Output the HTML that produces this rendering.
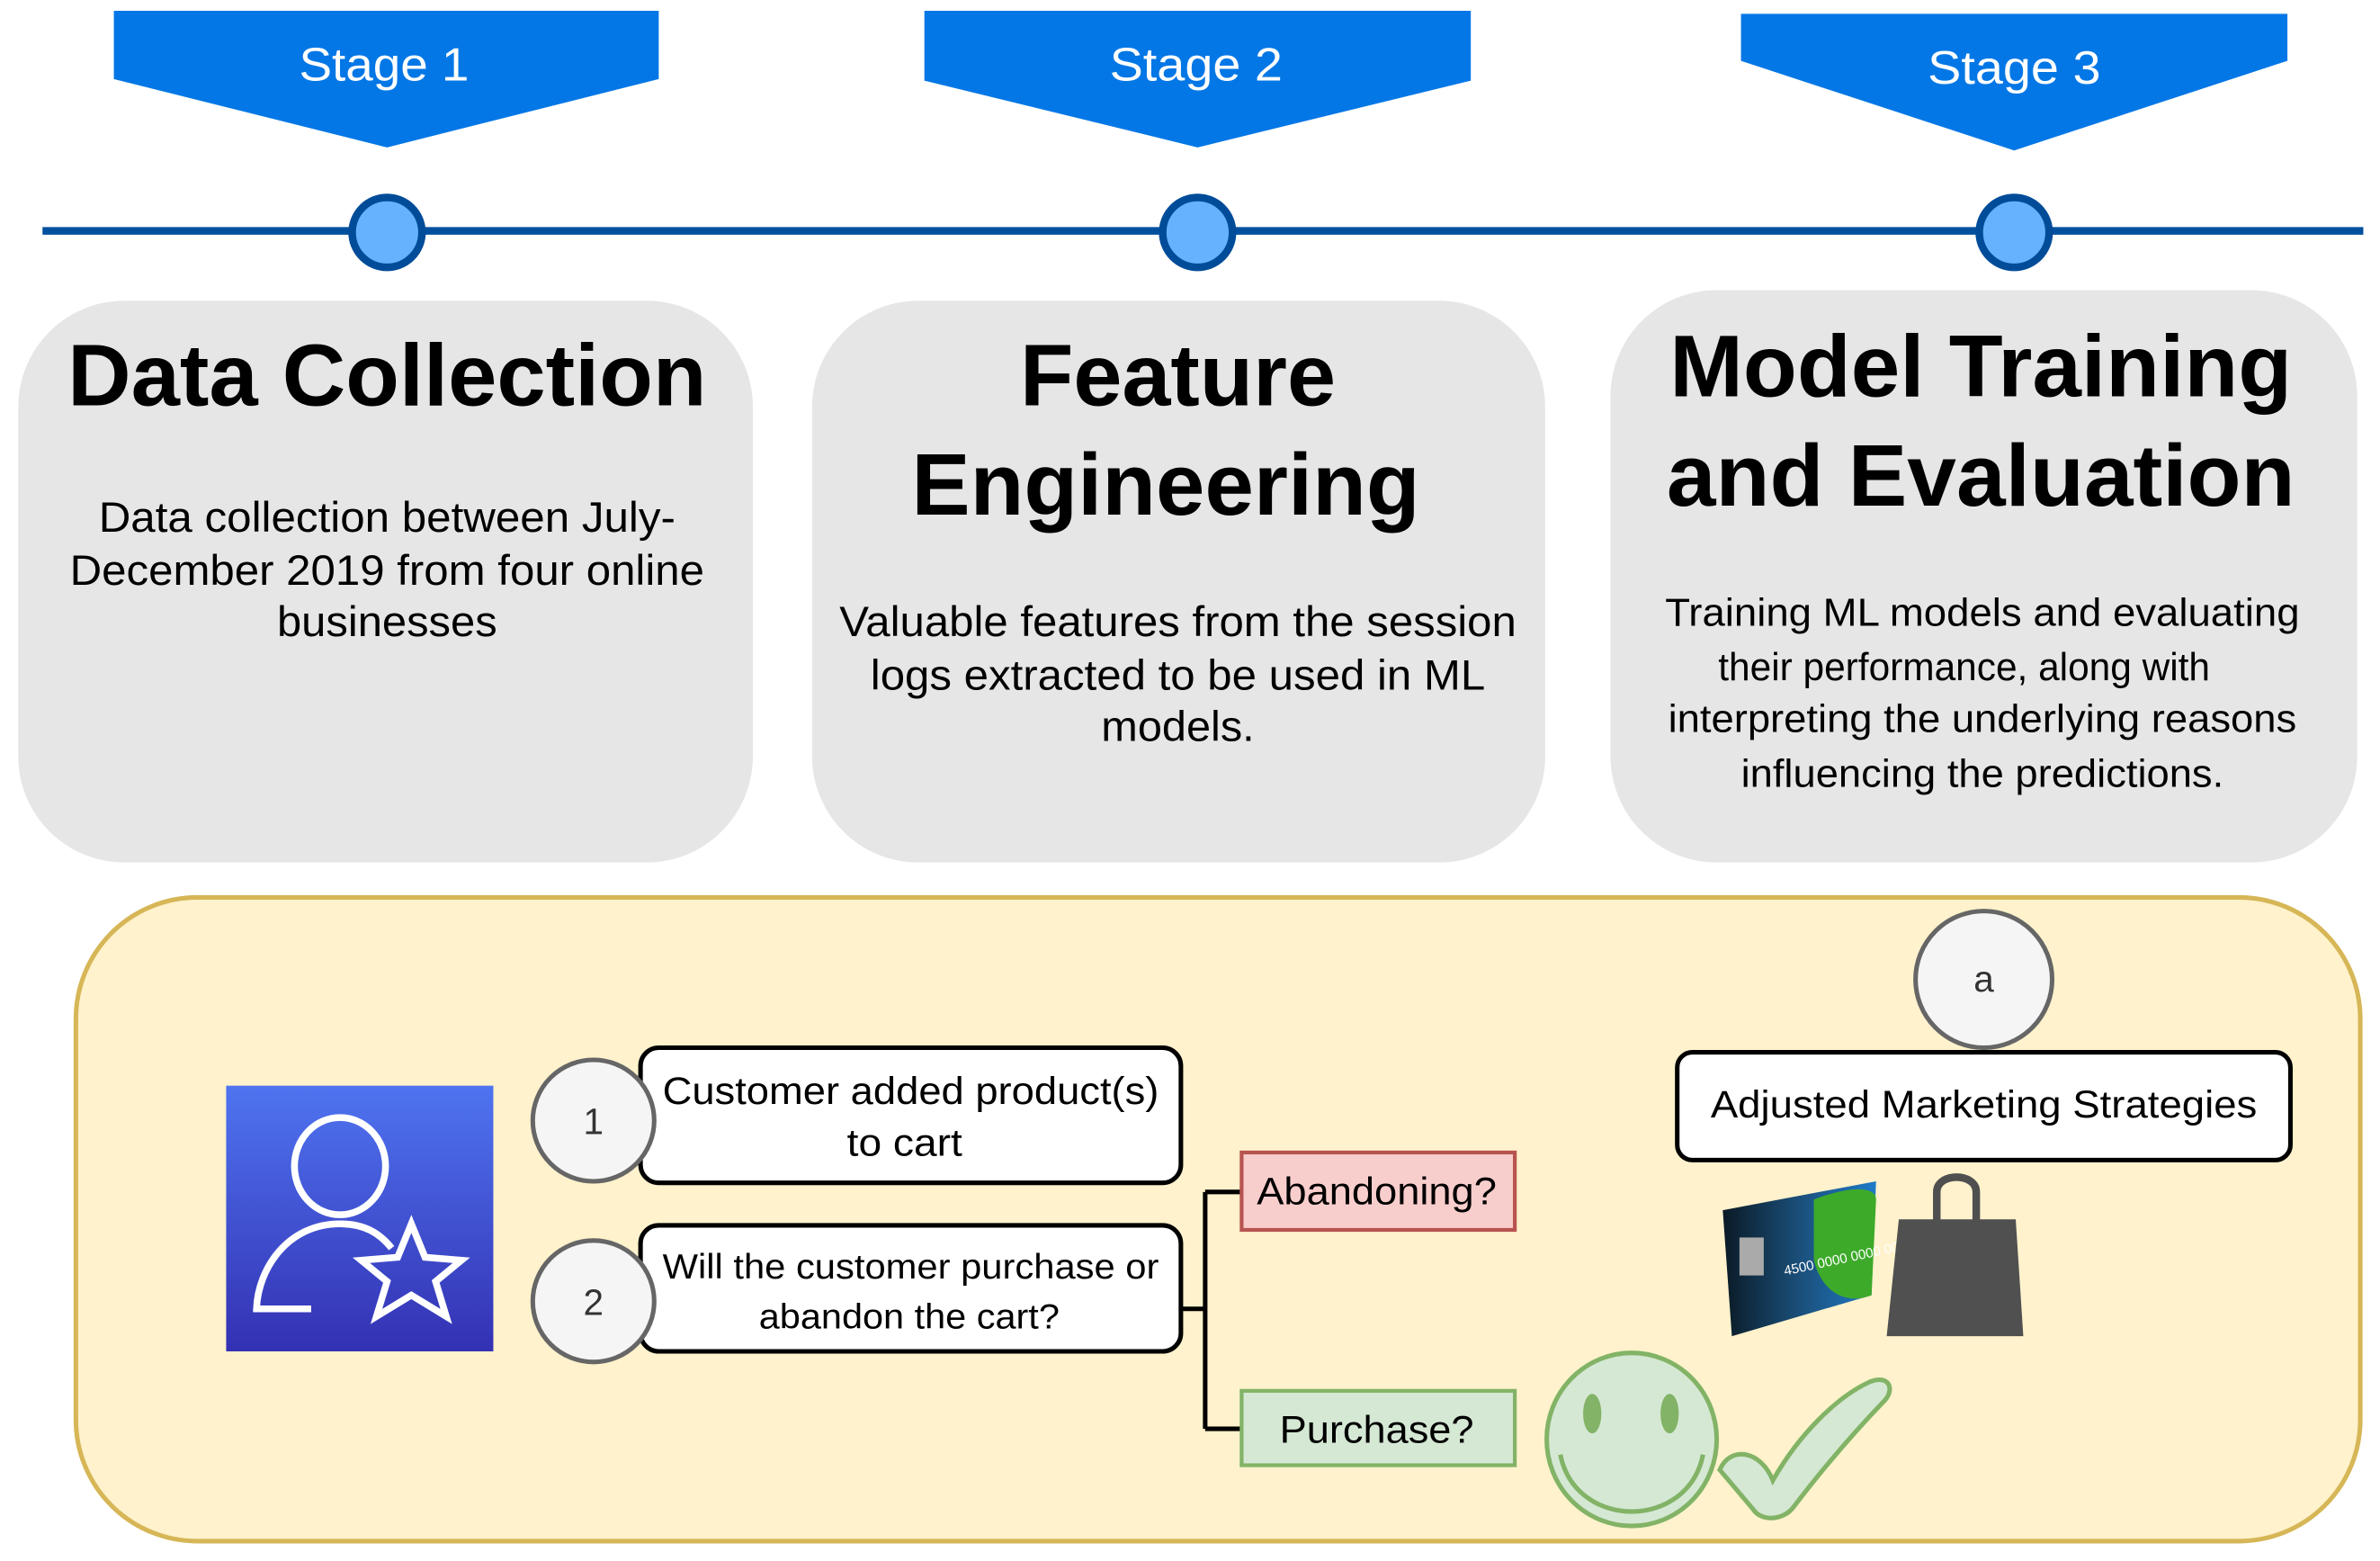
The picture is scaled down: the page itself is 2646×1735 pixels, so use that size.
<!DOCTYPE html>
<html><head><meta charset="utf-8"><style>html,body{margin:0;padding:0;background:#fff}svg{display:block}</style></head>
<body>
<svg width="2646" height="1735" viewBox="0 0 1568 1028" xmlns="http://www.w3.org/2000/svg" font-family="Liberation Sans, Arial, sans-serif">
<defs>
<linearGradient id="ug" x1="0" y1="0" x2="0" y2="1"><stop offset="0" stop-color="#4F74F0"/><stop offset="1" stop-color="#3331B3"/></linearGradient>
<linearGradient id="cg" x1="0" y1="0" x2="1" y2="0"><stop offset="0" stop-color="#0A1A25"/><stop offset="0.5" stop-color="#1B4F7A"/><stop offset="1" stop-color="#1E7BC8"/></linearGradient>
</defs>
<polygon points="75,7 434,7 434,52 255,97 75,52" fill="#0477E6"/>
<polygon points="609,7 969,7 969,53 789,97 609,53" fill="#0477E6"/>
<polygon points="1147,9 1507,9 1507,40 1327,99 1147,40" fill="#0477E6"/>
<g fill="#fff" font-size="31" text-anchor="middle">
<text x="253" y="53" textLength="112" lengthAdjust="spacingAndGlyphs">Stage 1</text>
<text x="788" y="53" textLength="114" lengthAdjust="spacingAndGlyphs">Stage 2</text>
<text x="1327" y="55" textLength="114" lengthAdjust="spacingAndGlyphs">Stage 3</text>
</g>
<line x1="28" y1="152" x2="1557" y2="152" stroke="#00509F" stroke-width="5"/>
<g fill="#66B2FF" stroke="#004C99" stroke-width="5">
<ellipse cx="255" cy="153" rx="23" ry="23"/>
<ellipse cx="789" cy="153" rx="23" ry="23"/>
<ellipse cx="1327" cy="153" rx="23" ry="23"/>
</g>
<rect x="12" y="198" width="484" height="370" rx="70" fill="#E6E6E6"/>
<rect x="535" y="198" width="483" height="370" rx="70" fill="#E6E6E6"/>
<rect x="1061" y="191" width="492" height="377" rx="70" fill="#E6E6E6"/>
<g font-weight="bold" font-size="58" text-anchor="middle" fill="#000">
<text x="255" y="267" textLength="421" lengthAdjust="spacingAndGlyphs">Data Collection</text>
<text x="776" y="267" textLength="208" lengthAdjust="spacingAndGlyphs">Feature</text>
<text x="768" y="339" textLength="335" lengthAdjust="spacingAndGlyphs">Engineering</text>
<text x="1305" y="261" textLength="410" lengthAdjust="spacingAndGlyphs">Model Training</text>
<text x="1305" y="333" textLength="414" lengthAdjust="spacingAndGlyphs">and Evaluation</text>
</g>
<g font-size="28" text-anchor="middle" fill="#000">
<text x="255" y="350" textLength="380" lengthAdjust="spacingAndGlyphs">Data collection between July-</text>
<text x="255" y="385" textLength="418" lengthAdjust="spacingAndGlyphs">December 2019 from four online</text>
<text x="255" y="419" textLength="145" lengthAdjust="spacingAndGlyphs">businesses</text>
<text x="776" y="419" textLength="446" lengthAdjust="spacingAndGlyphs">Valuable features from the session</text>
<text x="776" y="454" textLength="405" lengthAdjust="spacingAndGlyphs">logs extracted to be used in ML</text>
<text x="776" y="488" textLength="101" lengthAdjust="spacingAndGlyphs">models.</text>
</g>
<g font-size="26" text-anchor="middle" fill="#000">
<text x="1306" y="412" textLength="418" lengthAdjust="spacingAndGlyphs">Training ML models and evaluating</text>
<text x="1294" y="448" textLength="324" lengthAdjust="spacingAndGlyphs">their performance, along with</text>
<text x="1306" y="482" textLength="414" lengthAdjust="spacingAndGlyphs">interpreting the underlying reasons</text>
<text x="1306" y="518" textLength="318" lengthAdjust="spacingAndGlyphs">influencing the predictions.</text>
</g>
<rect x="50" y="591" width="1505" height="424" rx="80" fill="#FFF2CC" stroke="#D6B656" stroke-width="3"/>
<rect x="149" y="715" width="176" height="175" fill="url(#ug)"/>
<g fill="none" stroke="#fff" stroke-width="4.5">
<ellipse cx="224" cy="768" rx="30" ry="32"/>
<path d="M258,822 C250,812 240,806 224,806 C190,806 170,835 169,862 L205,862"/>
<polygon points="271,806 280,828 304,830 287,844 294,867 271,853 248,867 255,844 238,830 262,828"/>
</g>
<rect x="422" y="690" width="356" height="89" rx="12" fill="#fff" stroke="#000" stroke-width="3"/>
<rect x="422" y="807" width="356" height="83" rx="12" fill="#fff" stroke="#000" stroke-width="3"/>
<g fill="#F5F5F5" stroke="#666" stroke-width="3">
<ellipse cx="391" cy="738" rx="40" ry="40"/>
<ellipse cx="391" cy="857" rx="40" ry="40"/>
</g>
<g font-size="24" text-anchor="middle" fill="#333">
<text x="391" y="747">1</text>
<text x="391" y="866">2</text>
</g>
<g font-size="25" text-anchor="middle" fill="#000">
<text x="600" y="727" textLength="327" lengthAdjust="spacingAndGlyphs">Customer added product(s)</text>
<text x="596" y="761" textLength="76" lengthAdjust="spacingAndGlyphs">to cart</text>
</g>
<g font-size="23" text-anchor="middle" fill="#000">
<text x="600" y="842" textLength="327" lengthAdjust="spacingAndGlyphs">Will the customer purchase or</text>
<text x="599" y="875" textLength="198" lengthAdjust="spacingAndGlyphs">abandon the cart?</text>
</g>
<path d="M778,862 L794,862 M794,785 L794,941 M794,785 L818,785 M794,941 L818,941" stroke="#000" stroke-width="3" fill="none"/>
<rect x="818" y="759" width="180" height="51" fill="#F8CECC" stroke="#B85450" stroke-width="2.5"/>
<rect x="818" y="916" width="180" height="49" fill="#D5E8D4" stroke="#82B366" stroke-width="2.5"/>
<g font-size="25" text-anchor="middle" fill="#000">
<text x="907" y="793" textLength="158" lengthAdjust="spacingAndGlyphs">Abandoning?</text>
<text x="907" y="950" textLength="128" lengthAdjust="spacingAndGlyphs">Purchase?</text>
</g>
<ellipse cx="1307" cy="645" rx="45" ry="45" fill="#F5F5F5" stroke="#666" stroke-width="3"/>
<text x="1307" y="653" font-size="24" text-anchor="middle" fill="#333">a</text>
<rect x="1105" y="693" width="404" height="71" rx="10" fill="#fff" stroke="#000" stroke-width="3"/>
<text x="1307" y="736" font-size="25" text-anchor="middle" fill="#000" textLength="360" lengthAdjust="spacingAndGlyphs">Adjusted Marketing Strategies</text>
<polygon points="1135,797 1236,778 1233,853 1141,880" fill="url(#cg)"/>
<path d="M1195,790 C1215,782 1236,780 1236,790 L1233,853 C1215,860 1200,850 1195,830 Z" fill="#3DAA2A"/>
<rect x="1146" y="815" width="16" height="25" fill="#aaa"/>
<text x="1176" y="840" font-size="9" fill="#fff" transform="rotate(-12 1176 840)">4500 0000 0000 0000</text>
<path d="M1276,804 L1276,785 C1276,772 1302,772 1302,785 L1302,804" fill="none" stroke="#4F4F4F" stroke-width="5"/>
<polygon points="1251,803 1328,803 1333,880 1243,880" fill="#505050"/>
<ellipse cx="1075" cy="948" rx="56" ry="57" fill="#D5E8D4" stroke="#82B366" stroke-width="3"/>
<ellipse cx="1049" cy="931" rx="6" ry="13" fill="#82B366"/>
<ellipse cx="1100" cy="931" rx="6" ry="13" fill="#82B366"/>
<path d="M1028,958 C1038,1008 1112,1008 1122,958" fill="none" stroke="#82B366" stroke-width="3"/>
<path d="M1133,968 C1140,952 1160,955 1168,975 C1185,945 1210,920 1232,910 C1245,905 1248,915 1242,922 C1215,950 1195,975 1182,992 C1175,1002 1160,1002 1155,994 Z" fill="#D5E8D4" stroke="#82B366" stroke-width="3"/>
</svg>
</body></html>
